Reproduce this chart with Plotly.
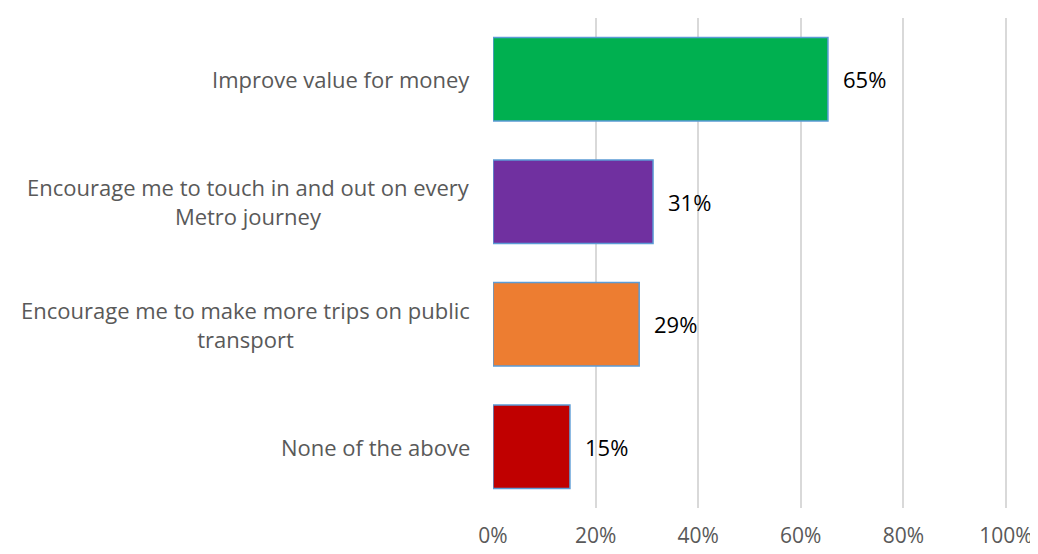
import plotly.graph_objects as go

categories = [
    "Improve value for money",
    "Encourage me to touch in and out on every<br>Metro journey",
    "Encourage me to make more trips on public<br>transport",
    "None of the above",
]
values = [0.653, 0.312, 0.285, 0.15]
value_labels = ["65%", "31%", "29%", "15%"]
colors = ["#00B050", "#7030A0", "#ED7D31", "#C00000"]
x_ticks = [0, 0.2, 0.4, 0.6, 0.8, 1.0]
x_tick_labels = ["0%", "20%", "40%", "60%", "80%", "100%"]

FONT = "'Open Sans', Lato, sans-serif"

fig = go.Figure()
fig.add_trace(go.Bar(
    y=categories,
    x=values,
    orientation="h",
    marker=dict(color=colors, line=dict(color="#5B9BD5", width=1.5)),
    hoverinfo="skip",
))

annotations = []
for cat, v, lab in zip(categories, values, value_labels):
    annotations.append(dict(
        x=v, y=cat, xref="x", yref="y", text=lab, showarrow=False,
        xanchor="left", yanchor="middle", xshift=13,
        font=dict(family=FONT, size=22, color="#000000"),
    ))
    annotations.append(dict(
        x=0, y=cat, xref="x", yref="y", text=cat, showarrow=False,
        xanchor="right", yanchor="middle", xshift=-21, align="center",
        font=dict(family=FONT, size=22, color="#595959"),
    ))

fig.update_layout(
    width=1030, height=546,
    margin=dict(l=485, r=30, t=10, b=46, autoexpand=False),
    paper_bgcolor="white", plot_bgcolor="white",
    showlegend=False,
    bargap=0.32,
    annotations=annotations,
    xaxis=dict(
        range=[0, 1.004], tickvals=x_ticks, ticktext=x_tick_labels,
        showgrid=True, gridcolor="#D9D9D9", gridwidth=2,
        zeroline=False, showline=False, ticks="",
        automargin=False,
        tickfont=dict(family=FONT, size=21, color="#595959"),
        ticklabelstandoff=13,
    ),
    yaxis=dict(
        categoryorder="array", categoryarray=categories[::-1],
        showticklabels=False, showgrid=False, zeroline=False, ticks="",
        automargin=False,
    ),
)

fig.write_html("out.html")
